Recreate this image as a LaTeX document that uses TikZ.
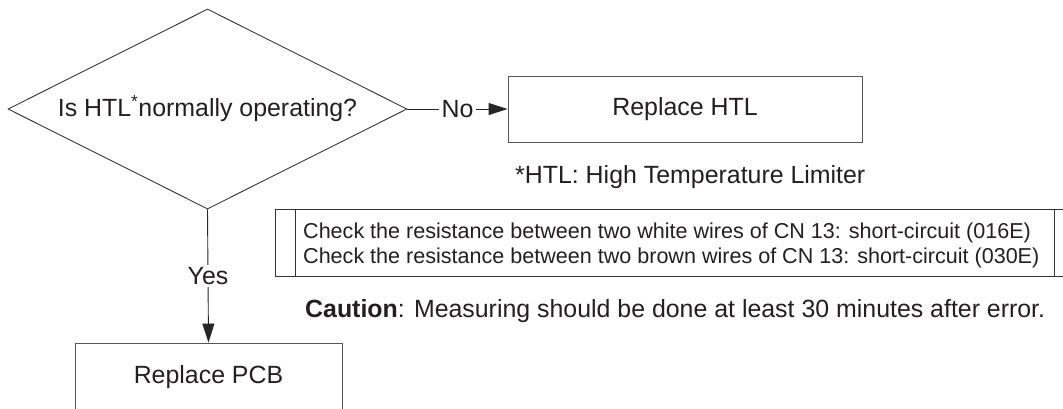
\documentclass[tikz,border=0pt]{standalone}
\usepackage{fontspec}
\setmainfont{Liberation Sans}
\usetikzlibrary{shapes.geometric, arrows.meta, positioning}
\definecolor{cline}{HTML}{555555}
\definecolor{ctext}{HTML}{231F20}
\newcommand{\bigfont}{\fontsize{24.9}{29}\selectfont}
\newcommand{\tblfont}{\fontsize{21.55}{25}\selectfont}

\begin{document}
\begin{tikzpicture}[x=1pt, y=-1pt,
  box/.style={draw=cline, line width=0.9pt, text=ctext, font=\bigfont,
              minimum width=#1, minimum height=66pt, inner sep=0pt},
  dec/.style={diamond, aspect=2, draw=black!85, line width=0.8pt, text=ctext, font=\bigfont,
              minimum width=399pt, minimum height=200pt, inner sep=0pt},
  arr/.style={-{Triangle[length=19pt,width=12pt]}, line width=0.9pt, black!85},
  lbl/.style={font=\bigfont, text=ctext, fill=white, inner sep=2.5pt},
  note/.style={font=\bigfont, text=ctext, inner sep=0pt, anchor=base west},
  row/.style={font=\tblfont, text=ctext, inner sep=0pt, anchor=base west},
  frame/.style={draw=black!80, line width=0.9pt}
]
\useasboundingbox (0,0) rectangle (1063,408);

\node[dec]       (htlok) at (207.5,109) {Is HTL\textsuperscript{*}normally operating?};
\node[box=354pt] (rhtl)  at (685,109)   {Replace HTL};
\node[box=267pt, minimum height=68pt] (rpcb) at (208.5,377) {Replace PCB};

\node[note] (defn) at (515,183) {*HTL: High Temperature Limiter};

% check table
\coordinate (tnw) at (275,209);
\coordinate (tse) at (1075,276);
\draw[frame] (tnw) rectangle (tse);
\draw[frame] (295,209) -- (295,276);
\draw[frame] (1054,209) -- (1054,276);
\node[row] (chk1) at (303,238) {Check the resistance between two white wires of CN 13: short-circuit (016E)};
\node[row] (chk2) at (303,263) {Check the resistance between two brown wires of CN 13: short-circuit (030E)};

\node[note] (caut) at (305,317) {\textbf{Caution}: Measuring should be done at least 30 minutes after error.};

\draw[arr] (htlok.east)  -- node[lbl]{No}  (rhtl.west);
\draw[arr] (htlok.south) -- node[lbl]{Yes} (rpcb.north);
\end{tikzpicture}
\end{document}
